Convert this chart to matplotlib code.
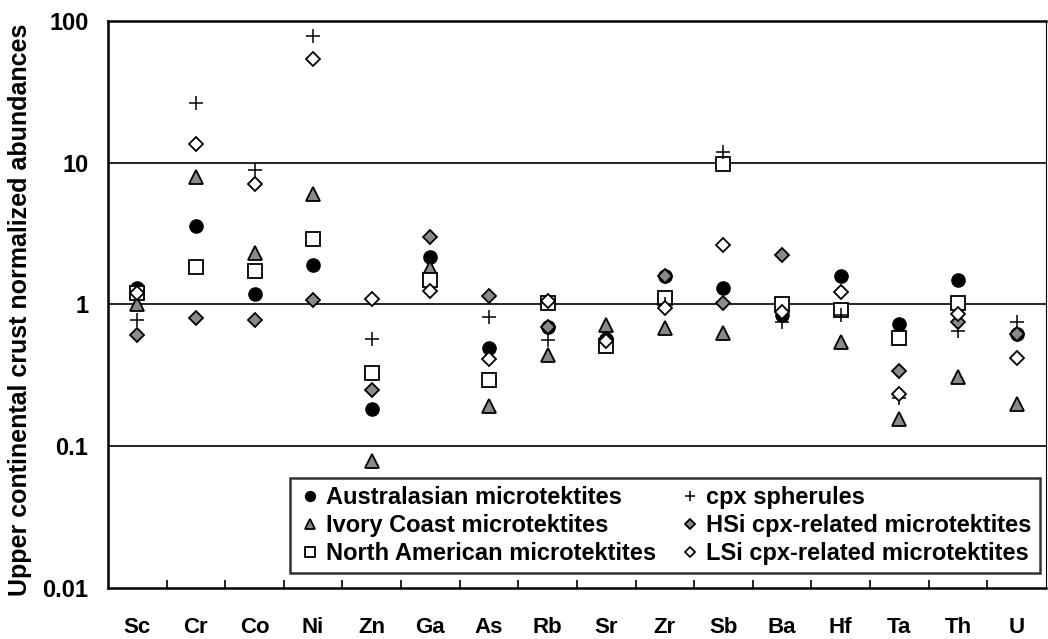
import numpy as np
import matplotlib
matplotlib.use("Agg")
import matplotlib.pyplot as plt
from matplotlib.ticker import FixedLocator, NullFormatter, NullLocator

nan = np.nan

# elements on the x axis
elements = ["Sc", "Cr", "Co", "Ni", "Zn", "Ga", "As", "Rb", "Sr", "Zr",
            "Sb", "Ba", "Hf", "Ta", "Th", "U"]

# upper continental crust normalized abundances
australasian = [1.30, 3.56, 1.18, 1.89, 0.184, 2.18, 0.49, 0.69, 0.57, 1.60,
                1.30, 0.84, 1.58, 0.73, 1.48, 0.62]
ivory_coast = [1.00, 7.9, 2.30, 6.0, 0.079, 1.80, 0.193, 0.44, 0.72, 0.68,
               0.63, nan, 0.54, 0.155, 0.31, 0.20]
north_american = [1.20, 1.83, 1.71, 2.88, 0.33, 1.48, 0.295, 1.03, 0.51, 1.12,
                  9.75, 1.00, 0.91, 0.58, 1.03, nan]
cpx_spherules = [0.78, 26.5, 8.85, 78.0, 0.57, nan, 0.82, 0.56, nan, 1.00,
                 11.9, 0.75, 0.84, 0.22, 0.65, 0.75]
hsi_cpx = [0.61, 0.80, 0.78, 1.07, 0.25, 2.97, 1.14, 0.69, 0.57, 1.60,
           1.02, 2.22, nan, 0.34, 0.75, 0.62]
lsi_cpx = [1.21, 13.5, 7.05, 54.0, 1.10, 1.24, 0.41, 1.05, 0.55, 0.94,
           2.61, 0.88, 1.22, 0.235, 0.86, 0.42]

plt.rcParams['font.family'] = ['Liberation Sans', 'DejaVu Sans']
plt.rcParams['font.weight'] = 'bold'

fig = plt.figure(figsize=(10.48, 6.39), dpi=100)
ax = fig.add_axes([0.103, 0.080, 0.895, 0.887])

x = np.arange(len(elements))
gray = "#8a8a8a"
ms = 9.5

ax.plot(x, australasian, "o", ms=ms, mfc="black", mec="black", ls="none",
        label="Australasian microtektites", zorder=3)
ax.plot(x, ivory_coast, "^", ms=ms, mfc=gray, mec="black", mew=1.3, ls="none",
        label="Ivory Coast microtektites", zorder=3)
ax.plot(x, north_american, "s", ms=ms, mfc="white", mec="black", mew=1.3, ls="none",
        label="North American microtektites", zorder=3)
ax.plot(x, cpx_spherules, "+", ms=ms + 1, mec="black", mew=1.1, ls="none",
        label="cpx spherules", zorder=4)
ax.plot(x, hsi_cpx, "D", ms=ms - 2.5, mfc=gray, mec="black", mew=1.3, ls="none",
        label="HSi cpx-related microtektites", zorder=4)
ax.plot(x, lsi_cpx, "D", ms=ms - 2.5, mfc="white", mec="black", mew=1.3, ls="none",
        label="LSi cpx-related microtektites", zorder=4)

ax.set_yscale("log")
ax.set_ylim(0.01, 100)
ax.set_xlim(-0.5, len(elements) - 0.5)

# horizontal lines at each decade
for v in [0.1, 1, 10]:
    ax.axhline(v, color="black", lw=1.2, zorder=1)

ax.yaxis.set_major_locator(FixedLocator([0.01, 0.1, 1, 10, 100]))
ax.yaxis.set_minor_locator(NullLocator())
ax.set_yticklabels(["0.01", "0.1", "1", "10", "100"])
ax.tick_params(axis="y", which="major", length=0, pad=14, labelsize=17)

ax.set_xticks(x)
ax.set_xticklabels(elements)
ax.xaxis.set_minor_locator(FixedLocator(np.arange(0.5, len(elements) - 0.5, 1)))
ax.xaxis.set_minor_formatter(NullFormatter())
ax.tick_params(axis="x", which="major", length=0, pad=21, labelsize=16)
ax.tick_params(axis="x", which="minor", direction="in", length=6, width=1.2)

for s in ax.spines.values():
    s.set_linewidth(1.8)
ax.spines["right"].set_linewidth(0.8)

ax.set_ylabel("Upper continental crust normalized abundances", fontsize=18,
              fontweight="bold")
ax.yaxis.set_label_coords(-0.081, 0.49)

leg = ax.legend(loc="lower right", bbox_to_anchor=(0.9935, 0.0255), ncol=2,
                fontsize=17, frameon=True, fancybox=False, edgecolor="black",
                handletextpad=0.2, columnspacing=0.9, borderpad=0.35,
                labelspacing=0.22, handlelength=1.0, markerscale=0.75,
                borderaxespad=0)
leg.get_frame().set_linewidth(1.8)

fig.savefig("out.png", dpi=100)
